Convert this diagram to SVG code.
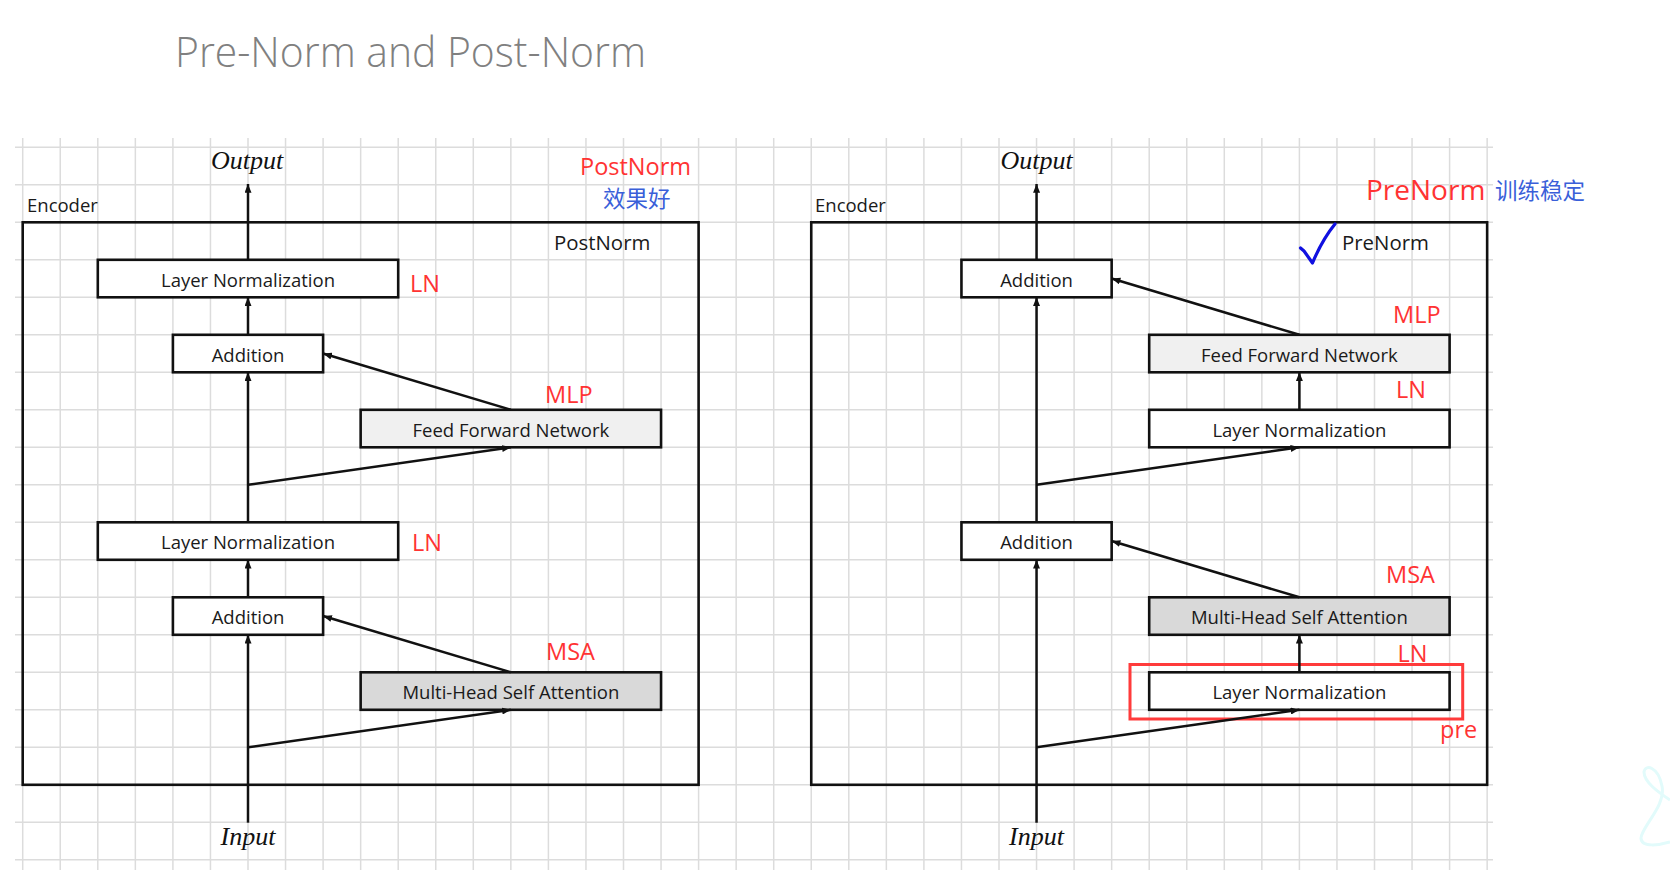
<svg xmlns="http://www.w3.org/2000/svg" width="1670" height="880" viewBox="0 0 1670 880">
<style>
.grid{stroke:#dcdcdc;stroke-width:1.5;fill:none}
.enc{fill:none;stroke:#111;stroke-width:2.6}
.box{stroke:#111;stroke-width:2.6}
.w{fill:#fff}
.ffn{fill:#f0f0f0}
.msa{fill:#d9d9d9}
.t{font-family:"Open Sans","Noto Sans",sans-serif;font-size:18.5px;fill:#1a1a1a;text-anchor:middle}
.lbl{font-family:"Open Sans","Noto Sans",sans-serif;font-size:18.5px;fill:#1a1a1a}
.big{font-size:20.4px}
.io{font-family:"Liberation Serif",serif;font-style:italic;font-size:26px;fill:#111;text-anchor:middle}
.red{font-family:"Open Sans","Noto Sans",sans-serif;font-size:23.5px;fill:#ff3333}
.red.xl{font-size:28px}
.blue{font-family:"Noto Sans CJK SC",sans-serif;font-size:22.5px;fill:#3a5fd9}
.con path{fill:none;stroke:#111;stroke-width:2.5}
</style>
<defs>
<marker id="arr" viewBox="0 0 10 8" refX="10" refY="4" markerWidth="9" markerHeight="7" orient="auto" markerUnits="userSpaceOnUse">
<path d="M0,0 L10,4 L0,8 z" fill="#111"/>
</marker>
</defs>
<rect width="1670" height="880" fill="#fff"/>
<text x="175" y="66.5" font-family="Open Sans, Noto Sans, sans-serif" font-weight="300" font-size="43" fill="#808080" textLength="471" lengthAdjust="spacingAndGlyphs">Pre-Norm and Post-Norm</text>
<g id="grid">
<path class="grid" d="M15,147.3H1493M15,184.8H1493M15,222.3H1493M15,259.8H1493M15,297.3H1493M15,334.8H1493M15,372.3H1493M15,409.8H1493M15,447.3H1493M15,484.8H1493M15,522.3H1493M15,559.8H1493M15,597.3H1493M15,634.8H1493M15,672.3H1493M15,709.8H1493M15,747.3H1493M15,784.8H1493M15,822.3H1493M15,859.8H1493"/>
<path class="grid" d="M22.7,138V870M60.25,138V870M97.8,138V870M135.35,138V870M172.9,138V870M210.45,138V870M248,138V870M285.55,138V870M323.1,138V870M360.65,138V870M398.2,138V870M435.75,138V870M473.3,138V870M510.85,138V870M548.4,138V870M585.95,138V870M623.5,138V870M661.05,138V870M698.6,138V870M736.15,138V870M773.7,138V870M811.25,138V870M848.8,138V870M886.35,138V870M923.9,138V870M961.45,138V870M999,138V870M1036.55,138V870M1074.1,138V870M1111.65,138V870M1149.2,138V870M1186.75,138V870M1224.3,138V870M1261.85,138V870M1299.4,138V870M1336.95,138V870M1374.5,138V870M1412.05,138V870M1449.6,138V870M1487.15,138V870"/>
</g>
<g id="faint-logo">
<path d="M1670,800 C1658,792 1644,782 1644,772 C1645,764 1658,766 1662,786 C1666,806 1642,826 1641,838 C1641,848 1660,845 1670,842" fill="none" stroke="#e2fbfb" stroke-width="3"/>
</g>
<g id="postnorm-encoder">
<rect class="enc" x="22.7" y="222.3" width="675.9" height="562.5"/>
<text class="lbl" x="27" y="211.5">Encoder</text>
<text class="lbl big" x="554" y="250">PostNorm</text>
</g>
<g id="post-output"><text class="io" x="247" y="168.5">Output</text></g>
<g id="post-input"><text class="io" x="248" y="845">Input</text></g>
<g id="post-ln-top"><rect class="box w" x="97.8" y="259.8" width="300.4" height="37.5"/><text class="t" x="248" y="286.5">Layer Normalization</text></g>
<g id="post-add-top"><rect class="box w" x="172.9" y="334.8" width="150.2" height="37.5"/><text class="t" x="248" y="361.5">Addition</text></g>
<g id="post-ffn"><rect class="box ffn" x="360.65" y="409.8" width="300.4" height="37.5"/><text class="t" x="510.85" y="436.5">Feed Forward Network</text></g>
<g id="post-ln-bot"><rect class="box w" x="97.8" y="522.3" width="300.4" height="37.5"/><text class="t" x="248" y="549">Layer Normalization</text></g>
<g id="post-add-bot"><rect class="box w" x="172.9" y="597.3" width="150.2" height="37.5"/><text class="t" x="248" y="624">Addition</text></g>
<g id="post-msa"><rect class="box msa" x="360.65" y="672.3" width="300.4" height="37.5"/><text class="t" x="510.85" y="699">Multi-Head Self Attention</text></g>
<g id="post-notes">
<text class="red" x="410" y="291.7">LN</text>
<text class="red" x="545" y="402.7">MLP</text>
<text class="red" x="412" y="550.7">LN</text>
<text class="red" x="546" y="660">MSA</text>
<text class="red" x="580" y="175">PostNorm</text>
<text class="blue" x="603" y="207">效果好</text>
</g>
<g id="prenorm-encoder">
<rect class="enc" x="811.25" y="222.3" width="675.9" height="562.5"/>
<text class="lbl" x="815" y="211.5">Encoder</text>
<text class="lbl big" x="1342" y="250">PreNorm</text>
<path d="M1300.5,248 L1304,251 L1312.5,263 Q1322,240 1335,224" fill="none" stroke="#1010e0" stroke-width="3.2" stroke-linecap="round" stroke-linejoin="round"/>
</g>
<g id="pre-output"><text class="io" x="1036.5" y="168.5">Output</text></g>
<g id="pre-input"><text class="io" x="1036.5" y="845">Input</text></g>
<g id="pre-add-top"><rect class="box w" x="961.45" y="259.8" width="150.2" height="37.5"/><text class="t" x="1036.55" y="286.5">Addition</text></g>
<g id="pre-ffn"><rect class="box ffn" x="1149.2" y="334.8" width="300.4" height="37.5"/><text class="t" x="1299.4" y="361.5">Feed Forward Network</text></g>
<g id="pre-ln-top"><rect class="box w" x="1149.2" y="409.8" width="300.4" height="37.5"/><text class="t" x="1299.4" y="436.5">Layer Normalization</text></g>
<g id="pre-add-bot"><rect class="box w" x="961.45" y="522.3" width="150.2" height="37.5"/><text class="t" x="1036.55" y="549">Addition</text></g>
<g id="pre-msa"><rect class="box msa" x="1149.2" y="597.3" width="300.4" height="37.5"/><text class="t" x="1299.4" y="624">Multi-Head Self Attention</text></g>
<g id="pre-ln-bot"><rect class="box w" x="1149.2" y="672.3" width="300.4" height="37.5"/><text class="t" x="1299.4" y="699">Layer Normalization</text></g>
<g id="pre-notes">
<rect x="1130" y="664.5" width="332.7" height="54.5" fill="none" stroke="#ff3b3b" stroke-width="3"/>
<text class="red" x="1393" y="323.3">MLP</text>
<text class="red" x="1396" y="398.3">LN</text>
<text class="red" x="1386" y="583.3">MSA</text>
<text class="red" x="1397.5" y="661.7">LN</text>
<text class="red" x="1440" y="737.5">pre</text>
<text class="red xl" x="1366" y="200">PreNorm</text>
<text class="blue" x="1495" y="199">训练稳定</text>
</g>
<g id="connectors" class="con">
<path d="M248,822.7V634.8" marker-end="url(#arr)"/>
<path d="M248,747.3L510.85,709.8" marker-end="url(#arr)"/>
<path d="M510.85,672.3L323.1,616" marker-end="url(#arr)"/>
<path d="M248,597.3V559.8" marker-end="url(#arr)"/>
<path d="M248,522.3V372.3" marker-end="url(#arr)"/>
<path d="M248,484.8L510.85,447.3" marker-end="url(#arr)"/>
<path d="M510.85,409.8L323.1,353.5" marker-end="url(#arr)"/>
<path d="M248,334.8V297.3" marker-end="url(#arr)"/>
<path d="M248,259.8V184" marker-end="url(#arr)"/>
<path d="M1036.55,822.7V559.8" marker-end="url(#arr)"/>
<path d="M1036.55,747.3L1299.4,709.8" marker-end="url(#arr)"/>
<path d="M1299.4,672.3V634.8" marker-end="url(#arr)"/>
<path d="M1299.4,597.3L1111.65,541" marker-end="url(#arr)"/>
<path d="M1036.55,522.3V297.3" marker-end="url(#arr)"/>
<path d="M1036.55,484.8L1299.4,447.3" marker-end="url(#arr)"/>
<path d="M1299.4,409.8V372.3" marker-end="url(#arr)"/>
<path d="M1299.4,334.8L1111.65,278.5" marker-end="url(#arr)"/>
<path d="M1036.55,259.8V184" marker-end="url(#arr)"/>
</g>
</svg>
